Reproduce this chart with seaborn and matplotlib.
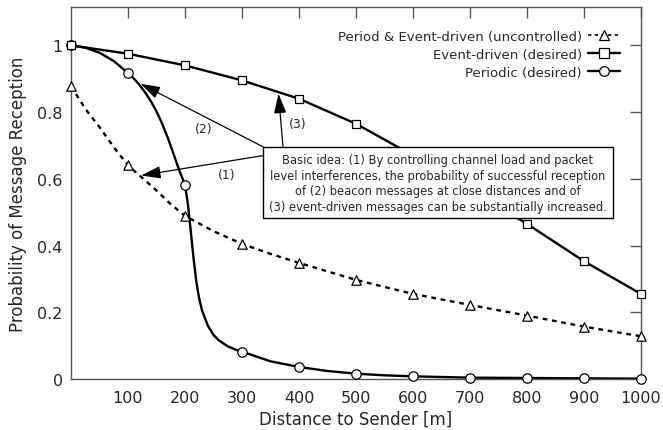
import matplotlib
matplotlib.use("Agg")
import matplotlib.pyplot as plt
import seaborn as sns
from matplotlib.lines import Line2D
from matplotlib.patches import Rectangle

# ---- data ----
dist = [0, 100, 200, 300, 400, 500, 600, 700, 800, 900, 1000]
event_desired = [1.0, 0.975, 0.94, 0.895, 0.84, 0.765, 0.67, 0.57, 0.465, 0.353, 0.255]
periodic_desired = [1.0, 0.917, 0.582, 0.082, 0.036, 0.016, 0.008, 0.004, 0.003, 0.002, 0.001]
uncontrolled = [0.878, 0.64, 0.489, 0.405, 0.348, 0.297, 0.255, 0.222, 0.19, 0.157, 0.128]

# smooth curve traces (lines are smoothed in the original)
periodic_curve_x = [0, 25, 50, 75, 100, 110, 120, 130, 140, 150, 160, 170, 180, 190, 200,
                    205, 210, 215, 220, 225, 230, 240, 250, 260, 275, 290, 300, 350, 400,
                    450, 500, 550, 600, 700, 800, 900, 1000]
periodic_curve_y = [1.0, 0.993, 0.978, 0.953, 0.917, 0.901, 0.882, 0.859, 0.833, 0.802, 0.765,
                    0.722, 0.674, 0.625, 0.582, 0.525, 0.445, 0.362, 0.29, 0.24, 0.205, 0.16,
                    0.132, 0.115, 0.098, 0.087, 0.082, 0.053, 0.036, 0.024, 0.016, 0.011,
                    0.008, 0.004, 0.003, 0.002, 0.001]
uncontrolled_curve_x = [0, 25, 50, 75, 100, 125, 150, 175, 200, 250, 300, 350, 400, 500,
                        600, 700, 800, 900, 1000]
uncontrolled_curve_y = [0.878, 0.81, 0.755, 0.695, 0.64, 0.603, 0.565, 0.524, 0.489, 0.443,
                        0.405, 0.375, 0.348, 0.297, 0.255, 0.222, 0.19, 0.157, 0.128]

labels = ["Period & Event-driven (uncontrolled)", "Event-driven (desired)", "Periodic (desired)"]
xticks = [100, 200, 300, 400, 500, 600, 700, 800, 900, 1000]
yticks = [0, 0.2, 0.4, 0.6, 0.8, 1.0]
ytick_labels = ["0", "0.2", "0.4", "0.6", "0.8", "1"]
xlabel = "Distance to Sender [m]"
ylabel = "Probability of Message Reception"
box_text = ("Basic idea: (1) By controlling channel load and packet\n"
            "level interferences, the probability of successful reception\n"
            "of (2) beacon messages at close distances and of\n"
            "(3) event-driven messages can be substantially increased.")

sns.set_style("white")
plt.rcParams["font.family"] = ["DejaVu Sans"]

fig = plt.figure(figsize=(6.63, 4.31), dpi=100)
ax = fig.add_axes([71 / 663, 1 - 380 / 431, (641 - 71) / 663, (380 - 8) / 431])

lw = 1.7
spine_col = "#555555"

sns.lineplot(x=uncontrolled_curve_x, y=uncontrolled_curve_y, ax=ax, color="black",
             linewidth=lw, linestyle=(0, (2.0, 2.0)), zorder=2)
sns.lineplot(x=dist, y=event_desired, ax=ax, color="black", linewidth=lw, zorder=2)
sns.lineplot(x=periodic_curve_x, y=periodic_curve_y, ax=ax, color="black",
             linewidth=lw, zorder=2)

ms = 46
sns.scatterplot(x=dist, y=uncontrolled, ax=ax, marker="^", s=ms, facecolor="white",
                edgecolor="black", linewidth=0.9, zorder=3, clip_on=False)
sns.scatterplot(x=dist, y=periodic_desired, ax=ax, marker="o", s=ms, facecolor="white",
                edgecolor="black", linewidth=0.9, zorder=3, clip_on=False)
sns.scatterplot(x=dist, y=event_desired, ax=ax, marker="s", s=ms - 8, facecolor="white",
                edgecolor="black", linewidth=0.9, zorder=3, clip_on=False)

ax.set_xlim(0, 1000)
ax.set_ylim(0, 1.115)
ax.set_xticks(xticks)
ax.set_xticklabels([str(t) for t in xticks])
ax.set_yticks(yticks)
ax.set_yticklabels(ytick_labels)
ax.tick_params(axis="both", direction="in", length=8, width=1, color=spine_col,
               labelsize=11.5, top=True, right=True, pad=6)
ax.tick_params(axis="x", pad=8)
for sp in ax.spines.values():
    sp.set_color(spine_col)
    sp.set_linewidth(1.0)
ax.set_xlabel(xlabel, fontsize=12, labelpad=3)
ax.set_ylabel(ylabel, fontsize=12, labelpad=7)

# annotation box
ax.add_patch(Rectangle((336, 0.483), 614, 0.2125, facecolor="white", edgecolor="black",
                       linewidth=1, zorder=6))
ax.text(643, 0.588, box_text, ha="center", va="center", fontsize=8.3, linespacing=1.25,
        multialignment="center", zorder=7)

arrow_kw = dict(arrowstyle="-|>,head_length=1.2,head_width=0.38", color="black",
                lw=0.9, shrinkA=0, shrinkB=0, mutation_scale=10)
ax.annotate("", xy=(123, 0.61), xytext=(338, 0.67), arrowprops=arrow_kw, zorder=5)
ax.annotate("", xy=(122, 0.885), xytext=(338, 0.695), arrowprops=arrow_kw, zorder=5)
ax.annotate("", xy=(364, 0.855), xytext=(372, 0.695), arrowprops=arrow_kw, zorder=5)
ax.text(273, 0.613, "(1)", fontsize=9, ha="center", va="center")
ax.text(232, 0.75, "(2)", fontsize=9, ha="center", va="center")
ax.text(397, 0.767, "(3)", fontsize=9, ha="center", va="center")

mk = dict(markerfacecolor="white", markeredgecolor="black", markeredgewidth=0.9, markersize=7)
handles = [
    Line2D([], [], color="black", linewidth=1.2, linestyle=(0, (2.0, 2.0)), marker="^", **mk),
    Line2D([], [], color="black", linewidth=lw, marker="s", **{**mk, "markersize": 6.5}),
    Line2D([], [], color="black", linewidth=lw, marker="o", **mk),
]
ax.legend(handles, labels, loc="upper right", bbox_to_anchor=(0.963, 0.938), frameon=False,
          markerfirst=False, fontsize=9.5, handlelength=2.4, handletextpad=0.5,
          labelspacing=0.36, borderpad=0, borderaxespad=0)

fig.savefig("out.png", dpi=100)
